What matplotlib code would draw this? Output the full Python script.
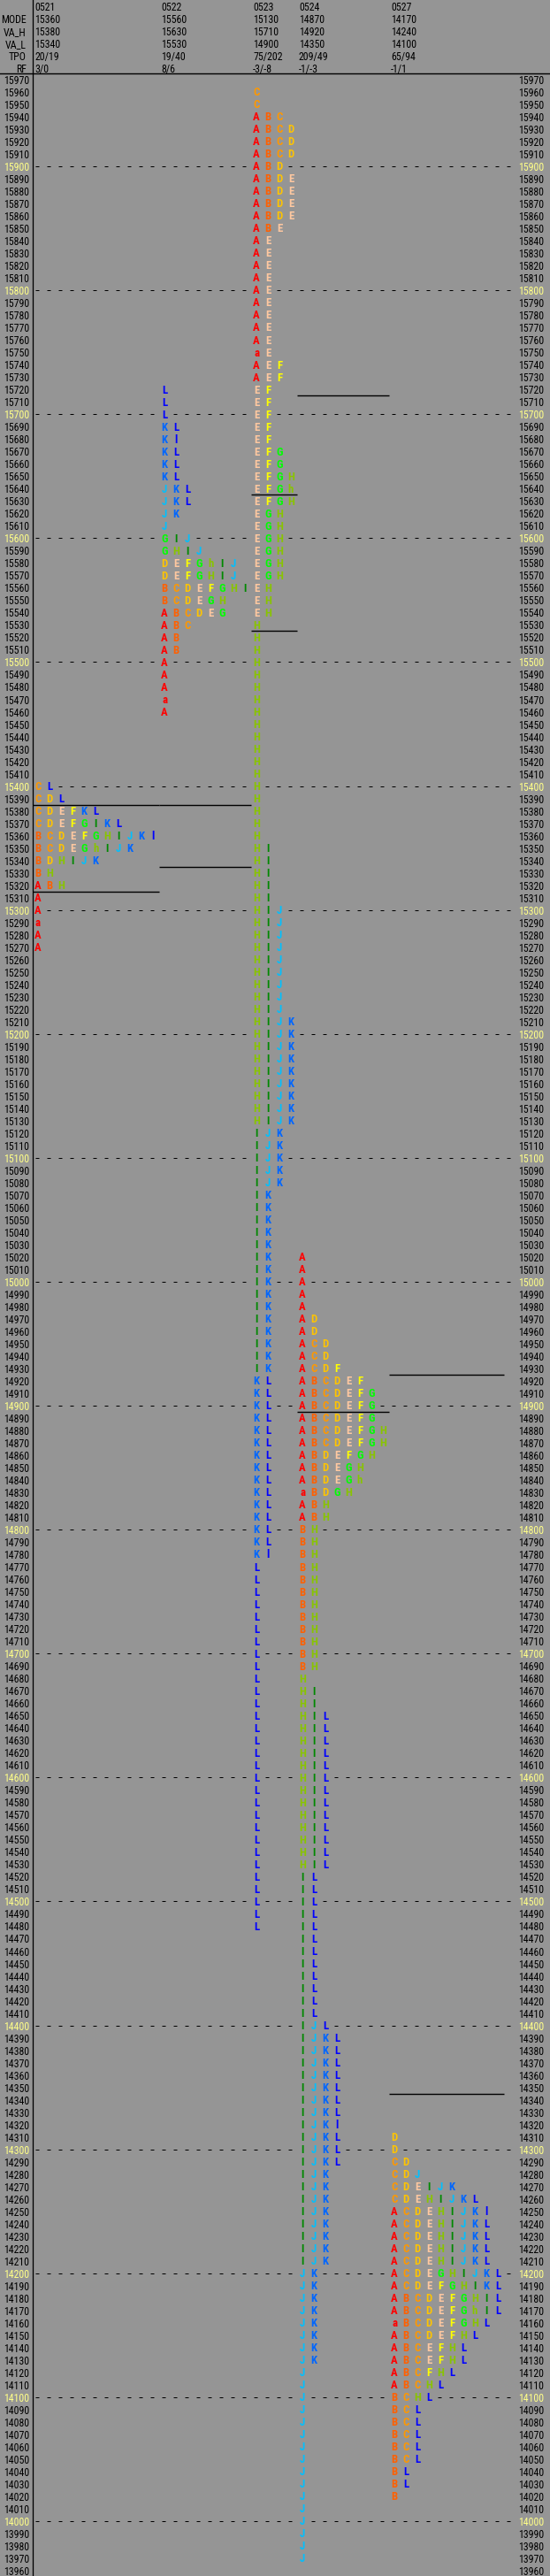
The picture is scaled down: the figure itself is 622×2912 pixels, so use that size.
import matplotlib
matplotlib.use("Agg")
import matplotlib.pyplot as plt
from matplotlib import font_manager
from matplotlib.lines import Line2D

# ---------------- data ----------------
dates = ["0521", "0522", "0523", "0524", "0527"]
mode = ["15360", "15560", "15130", "14870", "14170"]
va_h = [15380, 15630, 15710, 14920, 14240]
va_l = [15340, 15530, 14900, 14350, 14100]
tpo = ["20/19", "19/40", "75/202", "209/49", "65/94"]
rf = ["3/0", "8/6", "-3/-8", "-1/-3", "-1/1"]
prev_va = (15380, 15320)  # value area of the session before 0521

price_high, price_low, tick = 15970, 13960, 10

top_0521 = 15400
rows_0521 = ["CL", "CDL", "CDEFKL", "CDEFGIKL", "BCDEFGHIJKl", "BCDEGhIJK",
             "BDHIJK", "BH", "ABH", "A", "A", "a", "A", "A"]

top_0522 = 15720
rows_0522 = ["L", "L", "L", "KL", "Kl", "KL", "KL", "KL", "JKL", "JKL", "JK", "J",
             "GIJ", "GHIJ", "DEFGhIJ", "DEFGHIJ", "BCDEFGHI", "BCDEGH", "ABCDEG",
             "ABC", "AB", "AB", "A", "A", "A", "a", "A"]

top_0523 = 15960
rows_0523 = ["C", "C", "ABC", "ABCD", "ABCD", "ABCD", "ABD", "ABDE", "ABDE", "ABDE",
             "ABDE", "ABE", "AE", "AE", "AE", "AE", "AE", "AE", "AE", "AE",
             "AE", "aE", "AEF", "AEF", "EF", "EF", "EF", "EF", "EF", "EFG",
             "EFG", "EFGH", "EFGh", "EFGH", "EGH", "EGH", "EGH", "EGH", "EGH", "EGH",
             "EH", "EH", "EH",
             "H", "H", "H", "H", "H", "H", "H", "H", "H", "H",
             "H", "H", "H", "H", "H", "H", "H", "H",
             "HI", "HI", "HI", "HI", "HI",
             "HIJ", "HIJ", "HIJ", "HIJ", "HIJ", "HIJ", "HIJ", "HIJ", "HIJ",
             "HIJK", "HIJK", "HIJK", "HIJK", "HIJK", "HIJK", "HIJK", "HIJK", "HIJK",
             "IJK", "IJK", "IJK", "IJK", "IJK",
             "IK", "IK", "IK", "IK", "IK", "IK", "IK", "IK", "IK", "IK",
             "IK", "IK", "IK", "IK", "IK",
             "KL", "KL", "KL", "KL", "KL", "KL", "KL", "KL", "KL", "KL",
             "KL", "KL", "KL", "KL", "Kl",
             "L", "L", "L", "L", "L", "L", "L", "L", "L", "L",
             "L", "L", "L", "L", "L", "L", "L", "L", "L", "L",
             "L", "L", "L", "L", "L", "L", "L", "L", "L", "L"]

top_0524 = 15020
rows_0524 = ["A", "A", "A", "A", "A", "AD", "AD", "ACD", "ACD", "ACDF",
             "ABCDEF", "ABCDEFG", "ABCDEFG", "ABCDEFG", "ABCDEFGH", "ABCDEFGH",
             "ABDEFGH", "ABDEGH", "ABDEGh", "aBDGH", "ABH", "ABH",
             "BH", "BH", "BH", "BH", "BH", "BH", "BH", "BH", "BH", "BH", "BH", "BH",
             "H", "HI", "HI",
             "HIL", "HIL", "HIL", "HIL", "HIL", "HIL", "HIL", "HIL", "HIL", "HIL",
             "HIL", "HIL", "HIL",
             "IL", "IL", "IL", "IL", "IL", "IL", "IL", "IL", "IL", "IL", "IL", "IL",
             "IJL", "IJKL", "IJKL", "IJKL", "IJKL", "IJKL", "IJKL", "IJKL",
             "IJKl", "IJKL", "IJKL", "IJKL",
             "IJK", "IJK", "IJK", "IJK", "IJK", "IJK", "IJK", "IJK",
             "JK", "JK", "JK", "JK", "JK", "JK", "JK", "JK",
             "J", "J", "J", "J", "J", "J", "J", "J", "J", "J", "J", "J",
             "J", "J", "J", "J"]

top_0527 = 14310
rows_0527 = ["D", "D", "CD", "CDJ", "CDEIJK", "CDEHIJKL", "ACDEHIJKl", "ACDEHIJKL",
             "ACDEHIJKL", "ACDEHIJKL", "ACDEHIJKL", "ACDEGHIJKL", "ACDEFGHIKL",
             "ABCDEFGHIL", "ABCDEFGhIL", "aBCDEFGHL", "ABCDEFHL", "ABCEFHL",
             "ABCEFHL", "ABCFHL", "ABCHL", "BCHL", "BCL", "BCL", "BCL", "BCL",
             "BCL", "BL", "BL", "B"]

tops = [top_0521, top_0522, top_0523, top_0524, top_0527]
profiles = [rows_0521, rows_0522, rows_0523, rows_0524, rows_0527]

letter_colors = {"A": "#ff0000", "B": "#ff6000", "C": "#ff9800", "D": "#ffc400",
                 "E": "#ffc8a0", "F": "#ffff00", "G": "#00ff00", "H": "#88c400",
                 "I": "#008800", "J": "#00c0ff", "K": "#0066ff", "L": "#0000ff"}

# ---------------- style / layout ----------------
W, H, DPI = 622, 2912, 100
BG = "#959595"
HUNDRED = "#ffff88"
ROW_PX = 14.01      # pixel height of one price row
Y0_PX = 90.0        # pixel row of the top price
SLOT_PX = 13.0      # pixel width of one letter slot
AX_L, AX_R = 36.5, 583.0
HEAD_SEP = 83.3

avail = {f.name for f in font_manager.fontManager.ttflist}
FONT, FS = "DejaVu Sans", 6.6
for cand in ["Liberation Sans Narrow", "DejaVu Sans Condensed", "Roboto Condensed",
             "Open Sans Condensed", "Noto Sans Condensed"]:
    if cand in avail:
        FONT, FS = cand, 8.6
        break
FS_LET = 9.2 if FONT != "DejaVu Sans" else 7.4

plt.rcParams["font.family"] = [FONT, "DejaVu Sans"]

fig = plt.figure(figsize=(W / DPI, H / DPI), dpi=DPI, facecolor=BG)
ax = fig.add_axes([AX_L / W, 0, (AX_R - AX_L) / W, 1])
ax.set_facecolor(BG)

p_per_px = tick / ROW_PX
ax.set_ylim(price_high - (H - Y0_PX) * p_per_px, price_high + Y0_PX * p_per_px)
ax.set_xlim(0, (AX_R - AX_L) / SLOT_PX)

# price ticks on both sides
levels = list(range(price_low, price_high + 1, tick))
ax.set_yticks(levels)
ax.set_yticklabels([str(v) for v in levels])
ax.set_xticks([])
ax.tick_params(axis="y", length=0, pad=3.5 * 72 / DPI, labelsize=FS,
               left=False, right=False, labelleft=True, labelright=True)
for t in ax.yaxis.get_major_ticks():
    v = int(round(t.get_loc()))
    col = HUNDRED if v % 100 == 0 else "black"
    t.label1.set_color(col)
    t.label2.set_color(col)

for s in ["top", "right", "bottom"]:
    ax.spines[s].set_visible(False)
ax.spines["left"].set_color("black")
ax.spines["left"].set_linewidth(1.3 * 72 / DPI)

# day regions (width = widest row of each profile)
widths = [max(len(r) for r in rows) for rows in profiles]
starts = []
acc = 0
for w in widths:
    starts.append(acc)
    acc += w

# dashed lines every 100
hundreds = [v for v in levels if v % 100 == 0]
x_dash0 = 3.2 / SLOT_PX
x_dash1 = (579 - AX_L) / SLOT_PX
ax.hlines(hundreds, x_dash0, x_dash1, colors="black", linewidth=72 / DPI,
          linestyles=[(0, (4, 9))], zorder=1)

# value-area lines of the previous session, drawn across each day's region
for d in range(len(dates)):
    vh, vl = prev_va if d == 0 else (va_h[d - 1], va_l[d - 1])
    ax.hlines([vh + tick / 2, vl - tick / 2], starts[d], starts[d] + widths[d],
              colors="black", linewidth=1.4 * 72 / DPI, zorder=4)

# letters
cap_off = 4.3 * p_per_px
cover_x, cover_y = [], []
for d, (top, rows) in enumerate(zip(tops, profiles)):
    for i, row in enumerate(rows):
        price = top - tick * i
        for j, ch in enumerate(row):
            x = starts[d] + j + 0.5
            ax.text(x, price - cap_off, ch, ha="center", va="baseline",
                    color=letter_colors[ch.upper()], fontsize=FS_LET,
                    fontweight="bold", zorder=3)
            if price % 100 == 0:
                cover_x.append(x)
                cover_y.append(price)
ax.bar(cover_x, [7.5] * len(cover_x), bottom=[y - 3.75 for y in cover_y],
       width=1.0, color=BG, linewidth=0, zorder=2)

# header
head_names = ["", "MODE", "VA_H", "VA_L", "TPO", "RF"]
head_vals = [dates, mode, [str(v) for v in va_h], [str(v) for v in va_l], tpo, rf]
for k, (name, vals) in enumerate(zip(head_names, head_vals)):
    ypx = 6.9 + 13.95 * k
    fig.text(29.8 / W, 1 - ypx / H, name, ha="right", va="center_baseline",
             fontsize=FS, color="black")
    for d, v in enumerate(vals):
        xpx = AX_L + starts[d] * SLOT_PX + 2.5
        fig.text(xpx / W, 1 - ypx / H, v, ha="left", va="center_baseline",
                 fontsize=FS, color="black")

fig.add_artist(Line2D([0, 1], [1 - HEAD_SEP / H] * 2, transform=fig.transFigure,
                      color="black", linewidth=1.4 * 72 / DPI))

fig.savefig("out.png", dpi=DPI, facecolor=BG)
